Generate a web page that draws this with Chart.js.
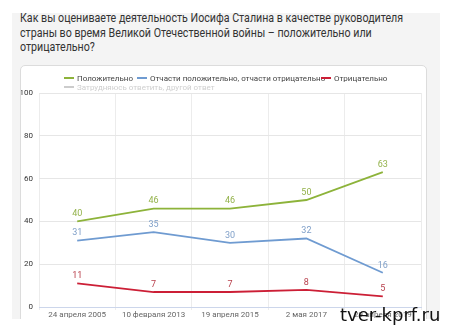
<!DOCTYPE html>
<html lang="ru">
<head>
<meta charset="utf-8">
<script src="https://cdn.jsdelivr.net/npm/chart.js@4.4.1/dist/chart.umd.min.js"></script>
<style>
  html, body { margin: 0; padding: 0; background: #fff; }
  body { width: 450px; height: 334px; overflow: hidden; position: relative; font-family: Roboto, sans-serif; }
  #panel { position: absolute; left: 12px; top: 13px; width: 428px; height: 306px; background: #f4f4f4; overflow: hidden; }
  #title { position: absolute; left: 8px; top: -2px; margin: 0; font: 13px/14.5px Roboto, sans-serif; color: #333; font-weight: normal; white-space: nowrap; transform: scaleX(0.82); transform-origin: 0 0; }
  #box { position: absolute; left: 8px; top: 52px; width: 405px; height: 268px; background: #fff; border: 1px solid #dcdcdc; border-radius: 5px; }
  #box canvas { position: absolute; left: 0; top: 0; }
  #legend { position: absolute; left: 0; top: 0; width: 405px; height: 30px; font: 8px Roboto, sans-serif; }
  .item { position: absolute; white-space: nowrap; line-height: 10px; }
  .item i { display: inline-block; width: 10px; height: 2px; vertical-align: middle; margin-right: 3px; position: relative; top: -1px; }
  #mark { position: absolute; left: 340px; top: 304px; font: 18px "DejaVu Sans", sans-serif; color: #111; }
</style>
</head>
<body>
<div id="panel">
  <h1 id="title">Как вы оцениваете деятельность Иосифа Сталина в качестве руководителя<br>страны во время Великой Отечественной войны – положительно или<br>отрицательно?</h1>
  <div id="box">
    <canvas id="stalinChart" width="405" height="268"></canvas>
    <div id="legend"></div>
  </div>
</div>
<div id="mark">tver-kprf.ru</div>
<script>
const categories = ["24 апреля 2005", "10 февраля 2013", "19 апреля 2015", "2 мая 2017", "29 апреля 2019"];
const positive = [40, 46, 46, 50, 63];
const partly = [31, 35, 30, 32, 16];
const negative = [11, 7, 7, 8, 5];
const seriesNames = ["Положительно", "Отчасти положительно, отчасти отрицательно", "Отрицательно", "Затрудняюсь ответить, другой ответ"];
const seriesColors = ["#8db33a", "#6f9bd1", "#cc1f36", "#cccccc"];
const labelColors = ["#93b24a", "#7f9fc8", "#b8404c"];
const yTicks = [0, 20, 40, 60, 80, 100];

// legend slots (x, y inside the chart box)
const legendSlots = [[43, 8], [116, 8], [300, 8], [43, 17]];

document.addEventListener("DOMContentLoaded", function () {
    const legend = document.getElementById("legend");
    seriesNames.forEach(function (name, i) {
        const el = document.createElement("div");
        el.className = "item";
        el.style.left = legendSlots[i][0] + "px";
        el.style.top = legendSlots[i][1] + "px";
        el.style.color = i === 3 ? "#cfcfcf" : "#444";
        el.innerHTML = '<i style="background:' + seriesColors[i] + '"></i>' + name;
        legend.appendChild(el);
    });

    const valueLabels = {
        id: "valueLabels",
        afterDatasetsDraw(chart) {
            const ctx = chart.ctx;
            chart.data.datasets.forEach(function (ds, i) {
                const meta = chart.getDatasetMeta(i);
                ctx.save();
                ctx.font = "9px Roboto, sans-serif";
                ctx.fillStyle = labelColors[i];
                ctx.textAlign = "center";
                ctx.textBaseline = "bottom";
                meta.data.forEach(function (pt, j) {
                    ctx.fillText(ds.data[j], pt.x, pt.y - 3);
                });
                ctx.restore();
            });
        }
    };

    const mk = (i, data) => ({
        label: seriesNames[i],
        data: data,
        borderColor: seriesColors[i],
        backgroundColor: seriesColors[i],
        borderWidth: 1.8,
        pointRadius: 0,
        tension: 0,
        fill: false
    });

    const ctx = document.getElementById("stalinChart").getContext("2d");
    new Chart(ctx, {
        type: "line",
        data: {
            labels: categories,
            datasets: [mk(0, positive), mk(1, partly), mk(2, negative)]
        },
        options: {
            responsive: false,
            animation: false,
            layout: { padding: { top: 27, right: 5, left: 0, bottom: 12 } },
            plugins: { legend: { display: false }, tooltip: { enabled: false } },
            scales: {
                x: {
                    offset: true,
                    grid: { offset: true, color: "#ececec", tickLength: 3, drawTicks: true },
                    border: { color: "#ccd6eb" },
                    ticks: { color: "#666", font: { size: 8, family: "Roboto" }, padding: 0, maxRotation: 0, autoSkip: false },
                    afterFit: function (scale) { scale.height = 15; }
                },
                y: {
                    min: 0,
                    max: 100,
                    afterBuildTicks: function (scale) { scale.ticks = yTicks.map(v => ({ value: v })); },
                    afterFit: function (scale) { scale.width = 18; },
                    grid: { color: "#e6e6e6", drawTicks: false },
                    border: { display: false },
                    ticks: { color: "#333", font: { size: 8, family: "Roboto" }, padding: 6 }
                }
            }
        },
        plugins: [valueLabels]
    });
});
</script>
</body>
</html>
